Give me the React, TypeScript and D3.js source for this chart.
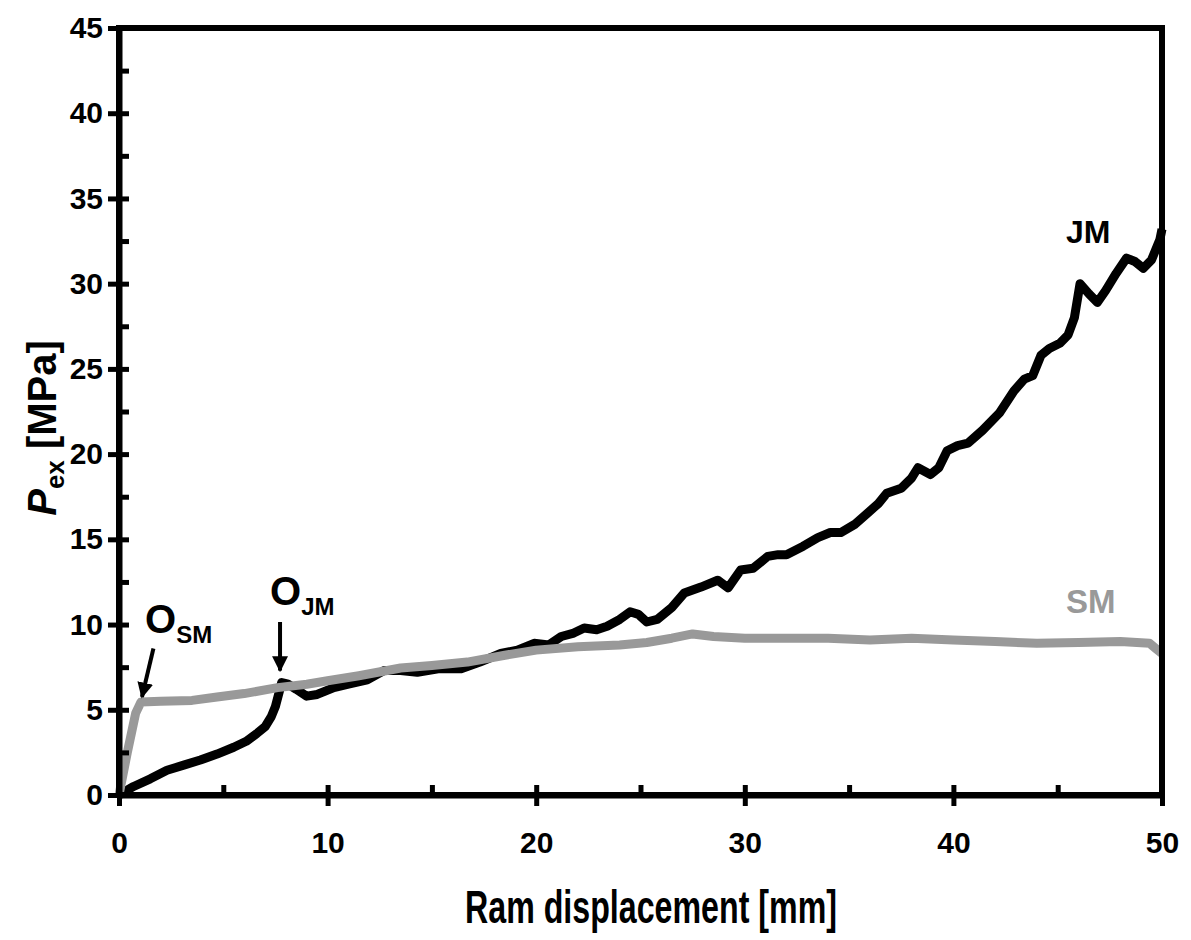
import React, { useEffect, useRef } from 'react';
import * as d3 from 'd3';

// JM curve: [ram displacement mm, P_ex MPa]
const jmCurve: [number, number][] = [
  [0, 0], [0.7, 0.5], [1.5, 0.95], [2.3, 1.45], [3.1, 1.75], [3.9, 2.05], [4.7, 2.4],
  [5.5, 2.8], [6.1, 3.15], [6.6, 3.6], [7.0, 4.0], [7.3, 4.6], [7.5, 5.2], [7.65, 5.9],
  [7.8, 6.6], [8.1, 6.5], [8.5, 6.2], [9.0, 5.8], [9.5, 5.9], [10.3, 6.3], [11.0, 6.5],
  [11.9, 6.75], [12.7, 7.3], [13.5, 7.3], [14.3, 7.2], [15.3, 7.4], [16.4, 7.4], [17.3, 7.8],
  [18.3, 8.3], [19.1, 8.5], [19.9, 8.9], [20.6, 8.8], [21.2, 9.3], [21.8, 9.5], [22.3, 9.8],
  [22.9, 9.7], [23.4, 9.9], [24.0, 10.3], [24.5, 10.75], [24.9, 10.6], [25.3, 10.15],
  [25.8, 10.3], [26.5, 11.0], [27.1, 11.85], [27.9, 12.2], [28.7, 12.6], [29.2, 12.15],
  [29.8, 13.2], [30.4, 13.3], [31.1, 14.0], [31.6, 14.1], [32.0, 14.1], [32.8, 14.6],
  [33.5, 15.1], [34.1, 15.4], [34.6, 15.4], [35.3, 15.9], [35.9, 16.55], [36.4, 17.1],
  [36.8, 17.7], [37.5, 18.0], [38.0, 18.6], [38.3, 19.2], [38.9, 18.8], [39.3, 19.2],
  [39.7, 20.2], [40.2, 20.5], [40.7, 20.65], [41.4, 21.4], [42.2, 22.4], [42.9, 23.7],
  [43.4, 24.4], [43.8, 24.6], [44.2, 25.8], [44.6, 26.2], [45.1, 26.5], [45.5, 27.0],
  [45.8, 28.0], [46.07, 30.0], [46.5, 29.4], [46.9, 28.9], [47.3, 29.6], [47.8, 30.6],
  [48.3, 31.5], [48.7, 31.3], [49.1, 30.9], [49.5, 31.4], [49.9, 32.6], [50, 33.2],
];

// SM curve
const smCurve: [number, number][] = [
  [0, 0], [0.4, 2.5], [0.8, 4.8], [1.05, 5.45], [2, 5.5], [3.5, 5.55], [4.7, 5.75],
  [6, 5.95], [7.6, 6.3], [9, 6.5], [10, 6.7], [11.5, 7.0], [13.5, 7.45], [15, 7.6],
  [16.7, 7.8], [18.5, 8.2], [20, 8.5], [22, 8.7], [24, 8.8], [25.3, 8.95], [26.5, 9.2],
  [27.5, 9.45], [28.5, 9.3], [30, 9.2], [32, 9.2], [34, 9.2], [36, 9.1], [38, 9.2],
  [40, 9.1], [42, 9.0], [44, 8.9], [46, 8.95], [48, 9.0], [49.4, 8.9], [49.7, 8.6], [50, 8.3],
];

const xMajorTicks = [0, 10, 20, 30, 40, 50];
const xMinorTicks = [0, 5, 10, 15, 20, 25, 30, 35, 40, 45, 50];
const yMajorTicks = [0, 5, 10, 15, 20, 25, 30, 35, 40, 45];
const yMinorTicks = [0, 2.5, 5, 7.5, 10, 12.5, 15, 17.5, 20, 22.5, 25, 27.5, 30, 32.5, 35, 37.5, 40, 42.5, 45];

const FONT = '"Liberation Sans", Arial, sans-serif';
const GRAY = '#999999';

export default function App() {
  const svgRef = useRef<SVGSVGElement | null>(null);

  useEffect(() => {
    if (!svgRef.current) return;
    const svg = d3.select(svgRef.current);
    svg.selectAll('*').remove();

    const margin = { top: 28, left: 119 };
    const width = 1043;
    const height = 767;

    const x = d3.scaleLinear().domain([0, 50]).range([0, width]);
    const y = d3.scaleLinear().domain([0, 45]).range([height, 0]);

    const defs = svg.append('defs');
    defs.append('marker')
      .attr('id', 'arrow')
      .attr('viewBox', '0 0 10 10')
      .attr('refX', 9)
      .attr('refY', 5)
      .attr('markerWidth', 4)
      .attr('markerHeight', 4)
      .attr('markerUnits', 'strokeWidth')
      .attr('orient', 'auto')
      .append('path')
      .attr('d', 'M0,0 L10,5 L0,10 Z')
      .attr('fill', '#000');

    const g = svg.append('g').attr('transform', `translate(${margin.left},${margin.top})`);

    // curves
    const line = d3.line<[number, number]>().x((d) => x(d[0])).y((d) => y(d[1]));
    g.append('path')
      .datum(jmCurve)
      .attr('d', line)
      .attr('fill', 'none')
      .attr('stroke', '#000')
      .attr('stroke-width', 9)
      .attr('stroke-linejoin', 'round');
    g.append('path')
      .datum(smCurve)
      .attr('d', line)
      .attr('fill', 'none')
      .attr('stroke', GRAY)
      .attr('stroke-width', 9)
      .attr('stroke-linejoin', 'round');

    // frame
    g.append('rect')
      .attr('x', 0).attr('y', 0)
      .attr('width', width).attr('height', height)
      .attr('fill', 'none')
      .attr('stroke', '#000')
      .attr('stroke-width', 6);

    // inner (minor) ticks
    const yInner = g.append('g').call(d3.axisRight(y).tickValues(yMinorTicks).tickSize(10).tickFormat(() => ''));
    yInner.select('.domain').remove();
    yInner.selectAll('line').attr('stroke', '#000').attr('stroke-width', 5);

    const xInner = g.append('g')
      .attr('transform', `translate(0,${height})`)
      .call(d3.axisTop(x).tickValues(xMinorTicks).tickSize(10).tickFormat(() => ''));
    xInner.select('.domain').remove();
    xInner.selectAll('line').attr('stroke', '#000').attr('stroke-width', 5);

    // outer major ticks + labels
    const yAxis = g.append('g')
      .call(d3.axisLeft(y).tickValues(yMajorTicks).tickSize(11).tickSizeOuter(0).tickPadding(5).tickFormat(d3.format('d')));
    yAxis.select('.domain').attr('stroke-width', 6);
    yAxis.selectAll('line').attr('stroke', '#000').attr('stroke-width', 5);
    yAxis.selectAll('text')
      .attr('font-family', FONT)
      .attr('font-size', 30)
      .attr('font-weight', 'bold')
      .attr('fill', '#000');

    const xAxis = g.append('g')
      .attr('transform', `translate(0,${height})`)
      .call(d3.axisBottom(x).tickValues(xMajorTicks).tickSize(11).tickSizeOuter(0).tickPadding(26).tickFormat(d3.format('d')));
    xAxis.select('.domain').attr('stroke-width', 6);
    xAxis.selectAll('line').attr('stroke', '#000').attr('stroke-width', 5);
    xAxis.selectAll('text')
      .attr('font-family', FONT)
      .attr('font-size', 30)
      .attr('font-weight', 'bold')
      .attr('fill', '#000');

    // axis titles
    svg.append('text')
      .attr('x', 651)
      .attr('y', 923)
      .attr('text-anchor', 'middle')
      .attr('font-family', FONT)
      .attr('font-size', 46)
      .attr('font-weight', 'bold')
      .attr('textLength', 372)
      .attr('lengthAdjust', 'spacingAndGlyphs')
      .text('Ram displacement [mm]');

    const yTitle = svg.append('text')
      .attr('transform', 'translate(56,428) rotate(-90)')
      .attr('text-anchor', 'middle')
      .attr('font-family', FONT)
      .attr('font-size', 40)
      .attr('font-weight', 'bold');
    yTitle.append('tspan').attr('font-style', 'italic').text('P');
    yTitle.append('tspan').attr('font-size', 26).attr('dy', 8).text('ex');
    yTitle.append('tspan').attr('dy', -8).text(' [MPa]');

    // annotations
    const onset = (label: string, sub: string, lx: number, ly: number) => {
      const t = g.append('text')
        .attr('x', x(lx))
        .attr('y', y(ly))
        .attr('font-family', FONT)
        .attr('font-weight', 'bold')
        .attr('font-size', 40);
      t.append('tspan').text(label);
      t.append('tspan').attr('font-size', 24).attr('dy', 10).text(sub);
    };
    onset('O', 'SM', 1.25, 9.5);
    onset('O', 'JM', 7.24, 11.15);

    const arrow = (x0: number, y0: number, x1: number, y1: number) => {
      g.append('line')
        .attr('x1', x(x0)).attr('y1', y(y0))
        .attr('x2', x(x1)).attr('y2', y(y1))
        .attr('stroke', '#000')
        .attr('stroke-width', 4)
        .attr('marker-end', 'url(#arrow)');
    };
    arrow(1.65, 8.6, 1.1, 5.75);
    arrow(7.72, 10.15, 7.72, 7.3);

    g.append('text')
      .attr('x', x(45.4)).attr('y', y(32.4))
      .attr('font-family', FONT).attr('font-weight', 'bold').attr('font-size', 32)
      .attr('fill', '#000')
      .text('JM');
    g.append('text')
      .attr('x', x(45.4)).attr('y', y(10.7))
      .attr('font-family', FONT).attr('font-weight', 'bold').attr('font-size', 33)
      .attr('fill', GRAY)
      .text('SM');
  }, []);

  return (
    <svg
      ref={svgRef}
      width={1191}
      height={940}
      style={{ position: 'absolute', left: 0, top: 0, background: '#fff', display: 'block' }}
    />
  );
}
